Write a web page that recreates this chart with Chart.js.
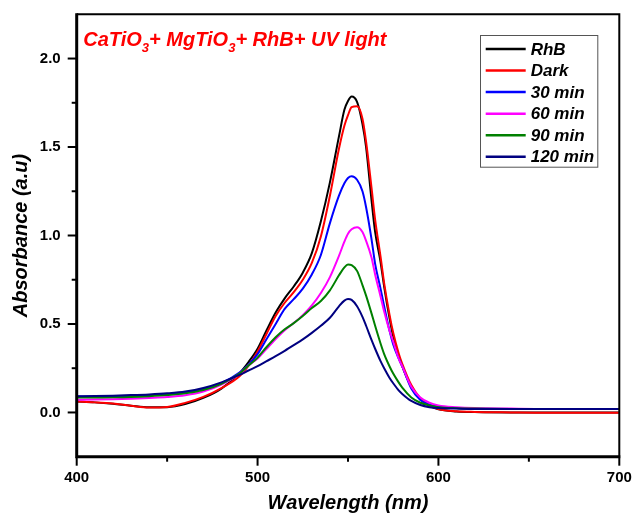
<!DOCTYPE html>
<html>
<head>
<meta charset="utf-8">
<title>UV-Vis absorbance of RhB</title>
<script src="https://cdn.jsdelivr.net/npm/chart.js@4/dist/chart.umd.min.js"></script>
<style>
  html, body { margin: 0; padding: 0; background: #ffffff; }
  canvas { display: block; }
</style>
</head>
<body>
<canvas id="chart" width="632" height="513"></canvas>
<script>
// Wavelength grid (nm) shared by every spectrum
const wavelengths = [400, 410, 420, 430, 440, 450, 460, 470, 480, 490, 495, 500, 505, 510, 515, 520, 525, 530, 535, 540, 545, 548, 550, 552, 555, 558, 560, 563, 565, 568, 570, 573, 575, 578, 580, 585, 590, 595, 600, 610, 620, 640, 660, 680, 700];

// Absorbance (a.u.) for each sample
const absRhB = [0.062, 0.057, 0.049, 0.038, 0.029, 0.030, 0.047, 0.082, 0.135, 0.222, 0.285, 0.360, 0.465, 0.565, 0.645, 0.712, 0.790, 0.900, 1.080, 1.300, 1.560, 1.710, 1.760, 1.785, 1.755, 1.630, 1.500, 1.200, 1.020, 0.850, 0.710, 0.530, 0.430, 0.320, 0.260, 0.145, 0.075, 0.038, 0.018, 0.006, 0.002, 0.000, 0.000, 0.000, 0.000];
const absDark = [0.062, 0.057, 0.050, 0.038, 0.028, 0.031, 0.054, 0.088, 0.138, 0.205, 0.265, 0.345, 0.445, 0.545, 0.620, 0.680, 0.750, 0.845, 0.995, 1.225, 1.490, 1.620, 1.680, 1.725, 1.730, 1.660, 1.530, 1.270, 1.090, 0.880, 0.730, 0.550, 0.450, 0.335, 0.275, 0.155, 0.080, 0.040, 0.020, 0.007, 0.003, 0.000, -0.002, -0.002, -0.002];
const abs30 = [0.090, 0.090, 0.091, 0.093, 0.097, 0.103, 0.113, 0.132, 0.165, 0.225, 0.270, 0.330, 0.415, 0.500, 0.585, 0.640, 0.700, 0.780, 0.890, 1.070, 1.225, 1.295, 1.325, 1.335, 1.315, 1.250, 1.160, 0.980, 0.840, 0.700, 0.600, 0.460, 0.385, 0.305, 0.260, 0.135, 0.070, 0.045, 0.033, 0.025, 0.022, 0.020, 0.020, 0.020, 0.020];
const abs60 = [0.072, 0.073, 0.075, 0.078, 0.082, 0.087, 0.097, 0.118, 0.158, 0.218, 0.265, 0.305, 0.360, 0.415, 0.465, 0.505, 0.550, 0.605, 0.675, 0.765, 0.885, 0.965, 1.010, 1.035, 1.047, 1.020, 0.970, 0.875, 0.780, 0.655, 0.570, 0.460, 0.400, 0.305, 0.260, 0.145, 0.085, 0.055, 0.040, 0.030, 0.025, 0.022, 0.020, 0.020, 0.020];
const abs90 = [0.085, 0.085, 0.086, 0.088, 0.092, 0.098, 0.108, 0.127, 0.162, 0.220, 0.265, 0.310, 0.370, 0.425, 0.470, 0.505, 0.545, 0.590, 0.630, 0.690, 0.775, 0.820, 0.836, 0.832, 0.800, 0.720, 0.660, 0.560, 0.490, 0.390, 0.330, 0.260, 0.220, 0.170, 0.140, 0.085, 0.055, 0.040, 0.030, 0.024, 0.022, 0.020, 0.020, 0.020, 0.020];
const abs120 = [0.092, 0.093, 0.095, 0.098, 0.102, 0.108, 0.118, 0.138, 0.170, 0.212, 0.237, 0.262, 0.290, 0.318, 0.348, 0.380, 0.413, 0.450, 0.490, 0.535, 0.600, 0.632, 0.641, 0.636, 0.600, 0.540, 0.490, 0.410, 0.360, 0.290, 0.250, 0.195, 0.165, 0.125, 0.105, 0.065, 0.042, 0.030, 0.025, 0.022, 0.020, 0.020, 0.020, 0.020, 0.020];

const seriesNames = ['RhB', 'Dark', '30 min', '60 min', '90 min', '120 min'];
const seriesColors = ['#000000', '#ff0000', '#0000ff', '#ff00ff', '#008000', '#000080'];
const seriesValues = [absRhB, absDark, abs30, abs60, abs90, abs120];

// Labelled ticks; the axes also carry unlabelled minor ticks between them
const xTickLabels = [400, 500, 600, 700];
const yTickLabels = [0.0, 0.5, 1.0, 1.5, 2.0];

// Heading, split into normal runs and subscripts
const headingParts = [
  ['CaTiO', false], ['3', true], ['+ MgTiO', false], ['3', true], ['+ RhB+ UV light', false]
];

const FONT = '"Liberation Sans", Arial, Helvetica, sans-serif';
Chart.defaults.font.family = FONT;
Chart.defaults.color = '#000';

const isLabelled = (list, v) => list.some(m => Math.abs(m - v) < 1e-6);

// Axis frame with outward major/minor tick marks
const axisFrame = {
  id: 'axisFrame',
  afterDatasetsDraw(chart) {
    const { ctx, chartArea: a, scales: { x, y } } = chart;
    ctx.save();
    ctx.strokeStyle = '#000';
    ctx.lineCap = 'butt';
    ctx.lineWidth = 2;
    x.ticks.forEach(t => {
      const px = x.getPixelForValue(t.value);
      const len = isLabelled(xTickLabels, t.value) ? 9 : 5;
      ctx.beginPath();
      ctx.moveTo(px, a.bottom);
      ctx.lineTo(px, a.bottom + len);
      ctx.stroke();
    });
    y.ticks.forEach(t => {
      if (t.value <= y.min + 1e-6 || t.value >= y.max - 1e-6) return;
      const py = y.getPixelForValue(t.value);
      const len = isLabelled(yTickLabels, t.value) ? 9 : 5;
      ctx.beginPath();
      ctx.moveTo(a.left, py);
      ctx.lineTo(a.left - len, py);
      ctx.stroke();
    });
    // thin top/right edges, heavier left/bottom axes
    ctx.lineWidth = 2;
    ctx.beginPath();
    ctx.moveTo(a.left, a.top);
    ctx.lineTo(a.right, a.top);
    ctx.lineTo(a.right, a.bottom);
    ctx.stroke();
    ctx.lineWidth = 3;
    ctx.beginPath();
    ctx.moveTo(a.left, a.top - 1);
    ctx.lineTo(a.left, a.bottom);
    ctx.lineTo(a.right + 1, a.bottom);
    ctx.stroke();
    ctx.restore();
  }
};

// Framed legend in the upper right of the plot
const boxLegend = {
  id: 'boxLegend',
  afterDraw(chart) {
    const { ctx, chartArea: a } = chart;
    const left = a.right - 139.3, top = a.top + 20.7;
    const w = 117.3, h = 131.7;
    ctx.save();
    ctx.fillStyle = '#ffffff';
    ctx.fillRect(left, top, w, h);
    ctx.strokeStyle = '#555';
    ctx.lineWidth = 1;
    ctx.strokeRect(left + 0.5, top + 0.5, w, h);
    ctx.font = 'italic bold 17px ' + FONT;
    ctx.textBaseline = 'middle';
    ctx.textAlign = 'left';
    chart.data.datasets.forEach((ds, i) => {
      const cy = top + 14 + i * 21.55;
      ctx.strokeStyle = ds.borderColor;
      ctx.lineWidth = 2.5;
      ctx.beginPath();
      ctx.moveTo(left + 5.7, cy);
      ctx.lineTo(left + 45.7, cy);
      ctx.stroke();
      ctx.fillStyle = '#000';
      ctx.fillText(ds.label, left + 50.7, cy + 1);
    });
    ctx.restore();
  }
};

// Red heading with chemical subscripts
const heading = {
  id: 'heading',
  afterDraw(chart) {
    const { ctx, chartArea: a } = chart;
    let x = a.left + 6.6;
    const base = a.top + 31.4;
    ctx.save();
    ctx.fillStyle = '#ff0000';
    ctx.textBaseline = 'alphabetic';
    ctx.textAlign = 'left';
    headingParts.forEach(([txt, sub]) => {
      ctx.font = sub ? 'italic bold 13px ' + FONT : 'italic bold 20px ' + FONT;
      ctx.fillText(txt, x, sub ? base + 6 : base);
      x += ctx.measureText(txt).width;
    });
    ctx.restore();
  }
};

new Chart(document.getElementById('chart'), {
  type: 'line',
  data: {
    datasets: seriesNames.map((name, i) => ({
      label: name,
      data: wavelengths.map((w, k) => ({ x: w, y: seriesValues[i][k] })),
      borderColor: seriesColors[i],
      backgroundColor: seriesColors[i],
      borderWidth: 2,
      pointRadius: 0,
      fill: false,
      cubicInterpolationMode: 'monotone',
      order: seriesNames.length - 1 - i
    }))
  },
  options: {
    responsive: false,
    animation: false,
    devicePixelRatio: 1,
    layout: { padding: { left: 0, right: 12.7, top: 14.3, bottom: 0 } },
    plugins: { legend: { display: false }, tooltip: { enabled: false } },
    scales: {
      x: {
        type: 'linear',
        min: 400,
        max: 700,
        grid: { display: false, drawTicks: false, tickLength: 0 },
        border: { display: false },
        ticks: {
          stepSize: 50,
          autoSkip: false,
          maxRotation: 0,
          padding: 12,
          color: '#000',
          font: { size: 15, weight: 'bold' },
          callback: v => isLabelled(xTickLabels, v) ? String(v) : ''
        },
        title: {
          display: true,
          text: 'Wavelength (nm)',
          color: '#000',
          font: { size: 20, weight: 'bold', style: 'italic', lineHeight: 1 },
          padding: { top: 0, bottom: 0 }
        },
        afterFit: s => {
          s.height = 56.3;
          s.paddingLeft = 0;
          s.paddingRight = 0;
        }
      },
      y: {
        type: 'linear',
        min: -0.25,
        max: 2.25,
        grid: { display: false, drawTicks: false, tickLength: 0 },
        border: { display: false },
        ticks: {
          stepSize: 0.25,
          autoSkip: false,
          padding: 16,
          color: '#000',
          font: { size: 15, weight: 'bold' },
          callback: v => isLabelled(yTickLabels, v) ? v.toFixed(1) : ''
        },
        title: {
          display: true,
          text: 'Absorbance (a.u)',
          color: '#000',
          font: { size: 20, weight: 'bold', style: 'italic', lineHeight: 1 },
          padding: { top: 11.5, bottom: 0 }
        },
        afterFit: s => {
          s.width = 76.7;
          s.paddingTop = 0;
          s.paddingBottom = 0;
        }
      }
    }
  },
  plugins: [axisFrame, boxLegend, heading]
});
</script>
</body>
</html>
